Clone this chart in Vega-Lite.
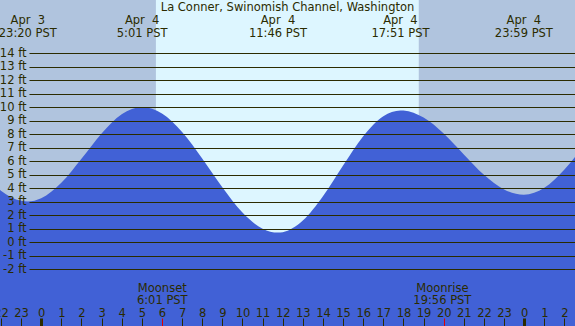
{
  "$schema": "https://vega.github.io/schema/vega-lite/v6.json",
  "width": 575,
  "height": 326,
  "autosize": {"type": "none"},
  "padding": 0,
  "background": "#b0c4de",
  "config": {"view": {"stroke": null}, "font": "DejaVu Sans"},
  "title": {
    "text": "La Conner, Swinomish Channel, Washington",
    "anchor": "middle",
    "frame": "group",
    "offset": -22.5,
    "baseline": "alphabetic",
    "font": "DejaVu Sans",
    "fontSize": 11.5,
    "fontWeight": "normal",
    "color": "#2b2b00"
  },
  "datasets": {
    "sun": [
      {"start": "2024-04-03T21:00:00Z", "end": "2024-04-04T05:42:00Z", "period": "night"},
      {"start": "2024-04-04T05:42:00Z", "end": "2024-04-04T18:46:00Z", "period": "day"},
      {"start": "2024-04-04T18:46:00Z", "end": "2024-04-05T03:00:00Z", "period": "night"}
    ],
    "tide": [
      {"time": "2024-04-03T21:00:00Z", "height": 5.3},
      {"time": "2024-04-03T22:00:00Z", "height": 3.8},
      {"time": "2024-04-03T23:00:00Z", "height": 3.05},
      {"time": "2024-04-03T23:20:00Z", "height": 3.0},
      {"time": "2024-04-04T00:00:00Z", "height": 3.24},
      {"time": "2024-04-04T01:00:00Z", "height": 4.38},
      {"time": "2024-04-04T02:00:00Z", "height": 6.16},
      {"time": "2024-04-04T03:00:00Z", "height": 8.04},
      {"time": "2024-04-04T04:00:00Z", "height": 9.46},
      {"time": "2024-04-04T05:01:00Z", "height": 10.0},
      {"time": "2024-04-04T06:00:00Z", "height": 9.52},
      {"time": "2024-04-04T07:00:00Z", "height": 8.15},
      {"time": "2024-04-04T08:00:00Z", "height": 6.19},
      {"time": "2024-04-04T09:00:00Z", "height": 4.05},
      {"time": "2024-04-04T10:00:00Z", "height": 2.18},
      {"time": "2024-04-04T11:00:00Z", "height": 0.99},
      {"time": "2024-04-04T11:46:00Z", "height": 0.7},
      {"time": "2024-04-04T12:00:00Z", "height": 0.73},
      {"time": "2024-04-04T13:00:00Z", "height": 1.59},
      {"time": "2024-04-04T14:00:00Z", "height": 3.39},
      {"time": "2024-04-04T15:00:00Z", "height": 5.67},
      {"time": "2024-04-04T16:00:00Z", "height": 7.84},
      {"time": "2024-04-04T17:00:00Z", "height": 9.32},
      {"time": "2024-04-04T17:51:00Z", "height": 9.75},
      {"time": "2024-04-04T18:00:00Z", "height": 9.74},
      {"time": "2024-04-04T19:00:00Z", "height": 9.22},
      {"time": "2024-04-04T20:00:00Z", "height": 8.04},
      {"time": "2024-04-04T21:00:00Z", "height": 6.49},
      {"time": "2024-04-04T22:00:00Z", "height": 4.98},
      {"time": "2024-04-04T23:00:00Z", "height": 3.89},
      {"time": "2024-04-04T23:59:00Z", "height": 3.5},
      {"time": "2024-04-05T01:00:00Z", "height": 4.01},
      {"time": "2024-04-05T02:00:00Z", "height": 5.37},
      {"time": "2024-04-05T03:00:00Z", "height": 7.21}
    ],
    "extremes": [
      {"time": "2024-04-03T23:20:00Z", "height": 3.0, "type": "low"},
      {"time": "2024-04-04T05:01:00Z", "height": 10.0, "type": "high"},
      {"time": "2024-04-04T11:46:00Z", "height": 0.7, "type": "low"},
      {"time": "2024-04-04T17:51:00Z", "height": 9.75, "type": "high"},
      {"time": "2024-04-04T23:59:00Z", "height": 3.5, "type": "low"}
    ],
    "moon": [
      {"time": "2024-04-04T06:01:00Z", "event": "Moonset"},
      {"time": "2024-04-04T19:56:00Z", "event": "Moonrise"}
    ]
  },
  "resolve": {"axis": {"y": "independent"}},
  "layer": [
    {
      "data": {"name": "sun"},
      "mark": {"type": "rect", "clip": true},
      "encoding": {
        "x": {
          "field": "start",
          "type": "temporal",
          "scale": {
            "type": "utc",
            "domain": [
              {"year": 2024, "month": 4, "date": 3, "hours": 21, "minutes": 57, "seconds": 11, "utc": true},
              {"year": 2024, "month": 4, "date": 5, "hours": 2, "minutes": 31, "seconds": 26, "utc": true}
            ]
          },
          "axis": {
            "orient": "bottom",
            "offset": -8,
            "domain": false,
            "grid": false,
            "tickCount": 30,
            "tickSize": 8,
            "tickColor": {"condition": {"test": "utchours(datum.value) == 6 || utchours(datum.value) == 20", "value": "#e00000"}, "value": "#2b2b00"},
            "tickWidth": {"condition": {"test": "utchours(datum.value) == 0", "value": 3}, "value": 1},
            "labelExpr": "utcFormat(datum.value, '%-H')",
            "labelPadding": -10,
            "labelBaseline": "alphabetic",
            "labelFlush": false,
            "labelOverlap": false,
            "labelBound": false,
            "labelFont": "DejaVu Sans",
            "labelFontSize": 11.5,
            "labelColor": "#2b2b00",
            "title": null,
            "zindex": 1
          }
        },
        "x2": {"field": "end"},
        "color": {
          "field": "period",
          "type": "nominal",
          "scale": {"domain": ["day", "night"], "range": ["#ddf6ff", "#b0c4de"]},
          "legend": null
        }
      }
    },
    {
      "data": {"name": "tide"},
      "mark": {"type": "area", "interpolate": "monotone", "clip": true, "color": "#4161d6"},
      "encoding": {
        "x": {"field": "time", "type": "temporal"},
        "y": {
          "field": "height",
          "type": "quantitative",
          "scale": {"domain": [-6.222, 17.926], "nice": false, "zero": false},
          "axis": {
            "orient": "left",
            "offset": -29,
            "values": [-2, -1, 0, 1, 2, 3, 4, 5, 6, 7, 8, 9, 10, 11, 12, 13, 14],
            "domain": false,
            "grid": false,
            "ticks": false,
            "labelExpr": "datum.value + ' ft'",
            "labelPadding": 3,
            "labelOverlap": false,
            "labelFont": "DejaVu Sans",
            "labelFontSize": 11.5,
            "labelColor": "#2b2b00",
            "title": null,
            "zindex": 1
          }
        },
        "y2": {"datum": -6.222}
      }
    },
    {
      "data": {"name": "extremes"},
      "mark": {"type": "text", "align": "center", "baseline": "alphabetic", "lineBreak": "\n", "lineHeight": 12.4, "font": "DejaVu Sans", "fontSize": 11.5, "color": "#2b2b00"},
      "encoding": {
        "x": {"field": "time", "type": "temporal"},
        "y": {
          "datum": 16.12,
          "axis": {
            "orient": "right",
            "offset": -546,
            "values": [-2, -1, 0, 1, 2, 3, 4, 5, 6, 7, 8, 9, 10, 11, 12, 13, 14],
            "domain": false,
            "grid": false,
            "labels": false,
            "ticks": true,
            "tickSize": 546,
            "tickColor": "#2b2b00",
            "tickWidth": 1,
            "title": null,
            "zindex": 1
          }
        },
        "text": {"field": "time", "type": "temporal", "timeUnit": "utcyearmonthdatehoursminutes", "format": "%b\u00a0%e\n%-H:%M PST"}
      }
    },
    {
      "data": {"name": "moon"},
      "mark": {"type": "text", "align": "center", "baseline": "alphabetic", "font": "DejaVu Sans", "fontSize": 11.5, "color": "#2b2b00"},
      "encoding": {
        "x": {"field": "time", "type": "temporal"},
        "y": {"datum": -3.704, "axis": null},
        "text": {"field": "event", "type": "nominal"}
      }
    },
    {
      "data": {"name": "moon"},
      "mark": {"type": "text", "align": "center", "baseline": "alphabetic", "font": "DejaVu Sans", "fontSize": 11.5, "color": "#2b2b00"},
      "encoding": {
        "x": {"field": "time", "type": "temporal"},
        "y": {"datum": -4.593, "axis": null},
        "text": {"field": "time", "type": "temporal", "timeUnit": "utcyearmonthdatehoursminutes", "format": "%-H:%M PST"}
      }
    }
  ]
}
